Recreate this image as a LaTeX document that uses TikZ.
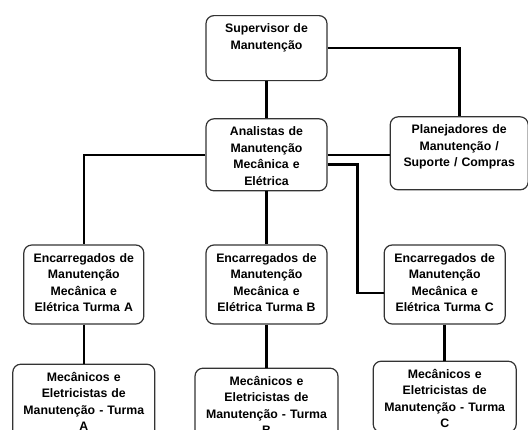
\documentclass[tikz,border=0pt]{standalone}
\usepackage{fontspec}
\setmainfont{Liberation Sans}
\usetikzlibrary{positioning}

\begin{document}
\begin{tikzpicture}[x=1pt,y=1pt]
  \tikzset{BoxStyle/.style = {draw       = black!80,
                              line width = 1.2pt,
                              rounded corners = 8pt,
                              inner sep  = 0pt,
                              align      = center,
                              font       = \fontsize{12.3}{16.5}\selectfont\bfseries,
                              text height = 17pt}}
  \tikzset{LinkStyle/.style = {line width = 2.6pt,
                               color      = black}}
  \useasboundingbox (0,0) rectangle (528,-429);
  \clip (0,0) rectangle (528,-429);

  \node[BoxStyle, text width=121pt, text depth=48pt, anchor=north] (sup) at (266.5,-15)
    {Supervisor de\\Manutenção};
  \node[BoxStyle, text width=121pt, text depth=55pt, below=37pt of sup] (ana)
    {Analistas de\\Manutenção\\Mecânica e\\Elétrica};
  \node[BoxStyle, text width=138pt, text depth=56pt, right=62pt of ana, yshift=1.5pt] (plan)
    {Planejadores de\\Manutenção /\\Suporte / Compras};

  \node[BoxStyle, text width=121pt, text depth=62pt, below=53pt of ana] (encB)
    {Encarregados de\\Manutenção\\Mecânica e\\Elétrica Turma B};
  \node[BoxStyle, text width=120pt, text depth=62pt, left=61pt of encB] (encA)
    {Encarregados de\\Manutenção\\Mecânica e\\Elétrica Turma A};
  \node[BoxStyle, text width=121pt, text depth=62pt, right=56pt of encB] (encC)
    {Encarregados de\\Manutenção\\Mecânica e\\Elétrica Turma C};

  \node[BoxStyle, text width=142pt, text depth=63pt, below=39pt of encA] (mecA)
    {Mecânicos e\\Eletricistas de\\Manutenção - Turma\\A};
  \node[BoxStyle, text width=143pt, text depth=63pt, below=43pt of encB] (mecB)
    {Mecânicos e\\Eletricistas de\\Manutenção - Turma\\B};
  \node[BoxStyle, text width=143pt, text depth=54pt, below=36pt of encC] (mecC)
    {Mecânicos e\\Eletricistas de\\Manutenção - Turma\\C};

  % top levels
  \draw[LinkStyle] (sup) -- (ana);
  \draw[LinkStyle] (sup.east) -| (plan.north);
  \draw[LinkStyle] (ana.east) -- (ana.east -| plan.west);

  % turmas
  \draw[LinkStyle] (ana.west) -| (encA.north);
  \draw[LinkStyle] (ana) -- (encB);
  \draw[LinkStyle] ([yshift=-9.5pt]ana.east) -| ([xshift=-26pt,yshift=-8.5pt]encC.west)
                   -- ([yshift=-8.5pt]encC.west);

  \draw[LinkStyle] (encA) -- (mecA);
  \draw[LinkStyle] (encB) -- (mecB);
  \draw[LinkStyle] (encC) -- (mecC);
\end{tikzpicture}
\end{document}
